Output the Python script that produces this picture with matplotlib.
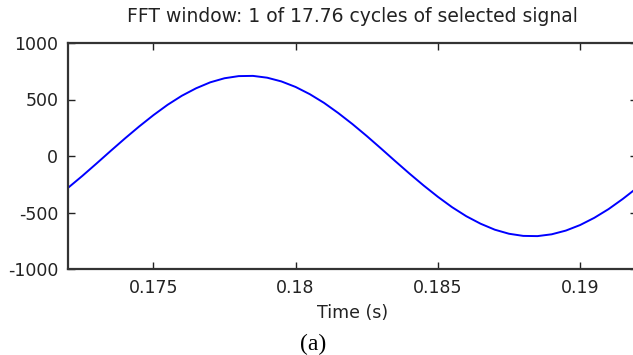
import matplotlib
matplotlib.use("Agg")
import matplotlib.pyplot as plt
import numpy as np

plt.rcParams["axes.unicode_minus"] = False

# samples of the selected signal, every 0.5 ms over one cycle
t = np.arange(41) * 0.0005 + 0.172
v = [-282, -177, -67, 45, 155, 261, 361, 453, 533, 599,
     652, 688, 707, 709, 693, 660, 611, 547, 470, 380,
     282, 177, 67, -45, -155, -261, -361, -453, -533, -599,
     -652, -688, -707, -709, -693, -660, -611, -547, -470, -380,
     -282]

xticks = [0.175, 0.18, 0.185, 0.19]
xticklabels = ["0.175", "0.18", "0.185", "0.19"]
yticks = [-1000, -500, 0, 500, 1000]

W, H = 633, 355
fig = plt.figure(figsize=(W / 100, H / 100), dpi=100)
ax = fig.add_axes([68 / W, 1 - 269 / H, (637 - 68) / W, (269 - 43) / H])

ax.plot(t, v, color="#0000ff", lw=1.4)
ax.set_xlim(0.172, 0.192)
ax.set_ylim(-1000, 1000)
ax.set_xticks(xticks)
ax.set_xticklabels(xticklabels)
ax.set_yticks(yticks)
ax.tick_params(direction="in", top=True, right=True, length=5, width=1,
               labelsize=12.5, pad=7, colors="#222222")
for s in ax.spines.values():
    s.set_linewidth(1.6)
    s.set_color("#333333")

ax.set_title("FFT window: 1 of 17.76 cycles of selected signal",
             fontsize=13.5, pad=15, color="#222222")
ax.set_xlabel("Time (s)", fontsize=12.5, labelpad=5, color="#222222")
fig.text(313 / W, 1 - 344 / H, "(a)", family="Liberation Serif",
         fontsize=17, ha="center", va="center")

fig.savefig("out.png", dpi=100)
